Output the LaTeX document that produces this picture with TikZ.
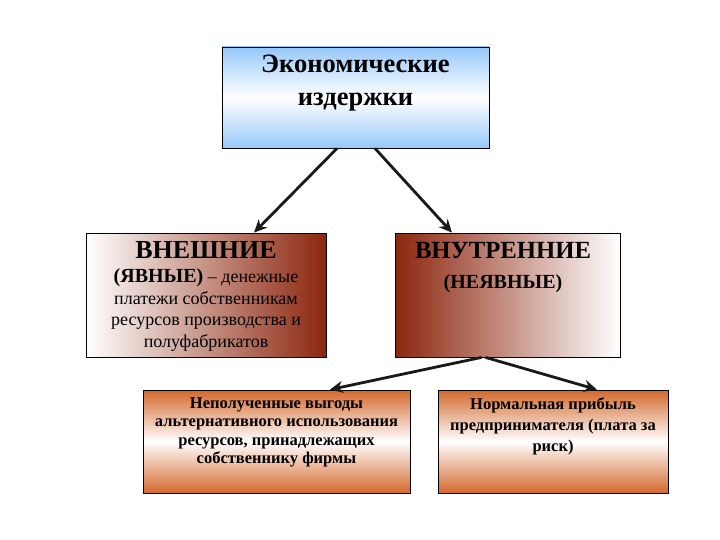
\documentclass[tikz,border=0pt]{standalone}
\usepackage{fontspec}
\setmainfont{Liberation Serif}
\usetikzlibrary{arrows.meta}
\definecolor{brownred}{RGB}{140,38,14}
\definecolor{orng}{RGB}{212,104,44}
\definecolor{skyb}{RGB}{150,200,250}
\begin{document}
\begin{tikzpicture}[x=1pt,y=-1pt,
  box/.style={draw=black, line width=0.8pt, inner sep=0pt},
  lbl/.style={align=center, inner sep=0pt, anchor=north, text=black},
  conn/.style={line width=2.8pt, draw=black!90, -{Stealth[length=13pt,width=12pt]}}]
\useasboundingbox (0,0) rectangle (720,540);
% boxes
\node[box, minimum width=267pt, minimum height=101pt,
      top color=skyb, bottom color=skyb, middle color=white] (top) at (355.5,97.5) {};
\node[box, minimum width=240pt, minimum height=124pt,
      left color=white, right color=brownred] (ext) at (206,295) {};
\node[box, minimum width=225pt, minimum height=124pt,
      left color=brownred, right color=white] (int) at (507.5,295) {};
\node[box, minimum width=267pt, minimum height=103pt,
      top color=orng, bottom color=orng, middle color=white] (lost) at (276.5,441.5) {};
\node[box, minimum width=230pt, minimum height=103pt,
      top color=orng, bottom color=orng, middle color=white] (norm) at (553,441.5) {};
% texts
\node[lbl, font=\bfseries\fontsize{26.5}{33}\selectfont] (topT) at (355.5,55)
  {Экономические\\издержки};
\node[lbl, font=\fontsize{18}{21.5}\selectfont] (extT) at (206,241)
  {{\bfseries\fontsize{26}{26}\selectfont ВНЕШНИЕ}\\[3pt]
   {\bfseries\fontsize{20}{20}\selectfont (ЯВНЫЕ)} – денежные\\платежи собственникам\\ресурсов производства и\\полуфабрикатов};
\node[lbl, font=\bfseries\fontsize{24.7}{24.7}\selectfont] (intT) at (503,242)
  {ВНУТРЕННИЕ\\[5pt]{\fontsize{20}{20}\selectfont (НЕЯВНЫЕ)}};
\node[lbl, font=\bfseries\fontsize{16.5}{18.6}\selectfont] (lostT) at (276.5,397)
  {Неполученные выгоды\\альтернативного использования\\ресурсов, принадлежащих\\собственнику фирмы};
\node[lbl, font=\bfseries\fontsize{16.5}{21}\selectfont] (normT) at (553,397)
  {Нормальная прибыль\\предпринимателя (плата за\\риск)};
% connectors
\draw[conn] ([xshift=-18.5pt]top.south) -- ([xshift=48pt]ext.north);
\draw[conn] ([xshift=19.5pt]top.south) -- ([xshift=-55.5pt]int.north);
\draw[conn] ([xshift=-26pt]int.south) -- ([xshift=53.5pt]lost.north);
\draw[conn] ([xshift=-22pt]int.south) -- ([xshift=44pt]norm.north);
\end{tikzpicture}
\end{document}
